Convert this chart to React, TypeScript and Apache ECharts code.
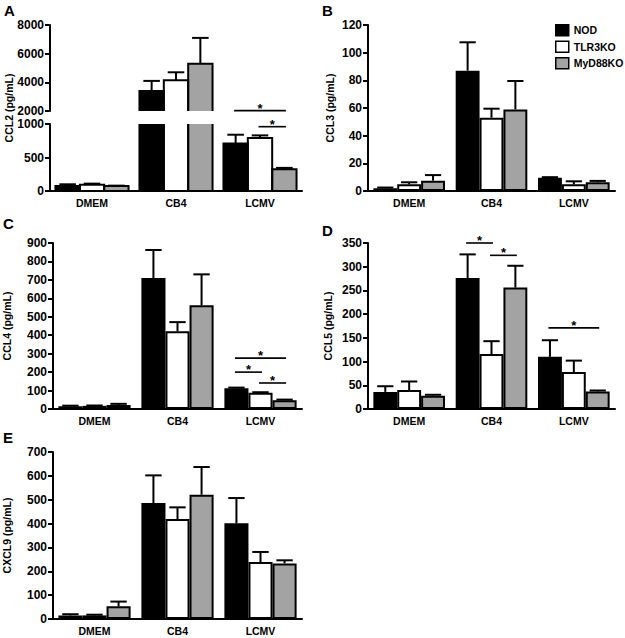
import React, { useEffect, useRef } from "react";
import * as echarts from "echarts";

const categories = ["DMEM", "CB4", "LCMV"];
const groups = ["NOD", "TLR3KO", "MyD88KO"];

// Panel A: CCL2
const ccl2NOD = [75, 3400, 710];
const ccl2NODErr = [25, 700, 130];
const ccl2TLR3KO = [95, 4150, 790];
const ccl2TLR3KOErr = [15, 550, 40];
const ccl2MyD88KO = [75, 5300, 325];
const ccl2MyD88KOErr = [5, 1800, 20];
const ccl2Sig = [[2, 0, 2, 1200], [2, 1, 2, 960]];

// Panel B: CCL3
const ccl3NOD = [2, 87, 9.5];
const ccl3NODErr = [0.5, 20.5, 0.5];
const ccl3TLR3KO = [4.8, 53, 4.8];
const ccl3TLR3KOErr = [1.5, 6.5, 2.2];
const ccl3MyD88KO = [7.5, 59, 6.3];
const ccl3MyD88KOErr = [4, 20.5, 1];

// Panel C: CCL4
const ccl4NOD = [15, 710, 113];
const ccl4NODErr = [3, 152, 3];
const ccl4TLR3KO = [17, 421, 88];
const ccl4TLR3KOErr = [2, 50, 3];
const ccl4MyD88KO = [22, 562, 48];
const ccl4MyD88KOErr = [6, 168, 3];
const ccl4Sig = [[2, 0, 2, 276], [2, 0, 1, 200], [2, 1, 2, 141]];

// Panel D: CCL5
const ccl5NOD = [36, 276, 110];
const ccl5NODErr = [12, 50, 35];
const ccl5TLR3KO = [40, 116, 78];
const ccl5TLR3KOErr = [18, 27, 24];
const ccl5MyD88KO = [28, 256, 37];
const ccl5MyD88KOErr = [2, 46, 2];
const ccl5Sig = [[1, 0, 1, 350], [1, 1, 2, 324], [2, 0, 2, 171]];

// Panel E: CXCL9
const cxcl9NOD = [15, 486, 401];
const cxcl9NODErr = [5, 116, 106];
const cxcl9TLR3KO = [15, 419, 239];
const cxcl9TLR3KOErr = [3, 49, 42];
const cxcl9MyD88KO = [53, 521, 233];
const cxcl9MyD88KOErr = [20, 116, 13];

const FONT = "'Liberation Sans', Arial, Helvetica, sans-serif";
const GAP = 0.13;
const COLORS = ["#000000", "#ffffff", "#a3a3a3"];

function barSeries(g: number, k: number, vals: number[], border: boolean) {
  return {
    type: "bar",
    name: groups[k],
    xAxisIndex: g,
    yAxisIndex: g,
    data: vals,
    barGap: "0%",
    barCategoryGap: GAP * 100 + "%",
    clip: true,
    silent: true,
    itemStyle: { color: COLORS[k], borderColor: "#000", borderWidth: border ? 2 : 0 },
    emphasis: { disabled: true },
    z: 2,
  };
}

// outline (left, top, right edges) for the broken-axis panel, clipped to its grid
function outlineSeries(g: number, k: number, vals: number[]) {
  return {
    type: "custom",
    xAxisIndex: g,
    yAxisIndex: g,
    clip: true,
    silent: true,
    z: 4,
    data: vals.map((v, i) => [i, v]),
    renderItem: (params: any, api: any) => {
      const c = api.value(0);
      const v = api.value(1);
      const band = api.size([1, 0])[0];
      const bw = (band * (1 - GAP)) / 3;
      const top = api.coord([c, v]);
      const base = api.coord([c, 0]);
      const cx = top[0] + (k - 1) * bw;
      const x0 = cx - bw / 2;
      const x1 = cx + bw / 2;
      return {
        type: "polyline",
        shape: { points: [[x0, base[1]], [x0, top[1]], [x1, top[1]], [x1, base[1]]] },
        style: { stroke: "#000", lineWidth: 2, fill: null },
      };
    },
  };
}

function errSeries(g: number, k: number, vals: number[], errs: number[]) {
  return {
    type: "custom",
    xAxisIndex: g,
    yAxisIndex: g,
    clip: true,
    silent: true,
    z: 5,
    data: vals.map((v, i) => [i, v, errs[i]]),
    renderItem: (params: any, api: any) => {
      const c = api.value(0);
      const v = api.value(1);
      const e = api.value(2);
      const band = api.size([1, 0])[0];
      const bw = (band * (1 - GAP)) / 3;
      const base = api.coord([c, v]);
      const top = api.coord([c, v + e]);
      const cx = base[0] + (k - 1) * bw;
      const cap = bw * 0.68;
      return {
        type: "group",
        children: [
          { type: "line", shape: { x1: cx, y1: base[1], x2: cx, y2: top[1] }, style: { stroke: "#000", lineWidth: 2 } },
          { type: "line", shape: { x1: cx - cap / 2, y1: top[1], x2: cx + cap / 2, y2: top[1] }, style: { stroke: "#000", lineWidth: 2 } },
        ],
      };
    },
  };
}

function sigSeries(g: number, rows: number[][]) {
  return {
    type: "custom",
    xAxisIndex: g,
    yAxisIndex: g,
    clip: false,
    silent: true,
    z: 6,
    data: rows,
    renderItem: (params: any, api: any) => {
      const c = api.value(0);
      const from = api.value(1);
      const to = api.value(2);
      const y = api.value(3);
      const band = api.size([1, 0])[0];
      const bw = (band * (1 - GAP)) / 3;
      const p = api.coord([c, y]);
      const x1 = p[0] + (from - 1) * bw - 1.5;
      const x2 = p[0] + (to - 1) * bw + 1.5;
      return {
        type: "group",
        children: [
          { type: "line", shape: { x1, y1: p[1], x2, y2: p[1] }, style: { stroke: "#000", lineWidth: 1.6 } },
          {
            type: "text",
            style: {
              text: "*",
              x: (x1 + x2) / 2,
              y: p[1] - 2.5,
              textAlign: "center",
              textVerticalAlign: "middle",
              fill: "#000",
              font: "bold 13px " + FONT,
            },
          },
        ],
      };
    },
  };
}

function panelSeries(g: number, vals: number[][], errs: number[][], broken = false) {
  const out: any[] = [];
  for (let k = 0; k < 3; k++) out.push(barSeries(g, k, vals[k], !broken));
  if (broken) for (let k = 0; k < 3; k++) out.push(outlineSeries(g, k, vals[k]));
  for (let k = 0; k < 3; k++) out.push(errSeries(g, k, vals[k], errs[k]));
  return out;
}

const axisLine = { show: true, onZero: false, lineStyle: { color: "#000", width: 2 } };

function xAxis(g: number, show = true) {
  return {
    type: "category",
    gridIndex: g,
    data: categories,
    show,
    axisLine,
    axisTick: { show: false },
    axisLabel: { color: "#000", fontWeight: "bold", fontSize: 10.5, fontFamily: FONT, margin: 6 },
    splitLine: { show: false },
    z: 10,
  };
}

function yAxis(g: number, min: number, max: number, interval: number, name?: string, nameGap?: number) {
  return {
    type: "value",
    gridIndex: g,
    min,
    max,
    interval,
    name: name || "",
    nameLocation: "middle",
    nameGap: nameGap || 30,
    nameTextStyle: { color: "#000", fontWeight: "bold", fontSize: 10.5, fontFamily: FONT },
    axisLine,
    axisTick: { show: true, inside: false, length: 5, lineStyle: { color: "#000", width: 2 } },
    axisLabel: {
      color: "#000",
      fontWeight: "bold",
      fontSize: 12,
      fontFamily: FONT,
      margin: 6,
      formatter: (v: number) => String(v),
    },
    splitLine: { show: false },
    z: 10,
  };
}

export default function App() {
  const ref = useRef<HTMLDivElement>(null);
  useEffect(() => {
    if (!ref.current) return;
    const chart = echarts.init(ref.current, undefined, { renderer: "svg" });
    const ccl2Vals = [ccl2NOD, ccl2TLR3KO, ccl2MyD88KO];
    const ccl2Errs = [ccl2NODErr, ccl2TLR3KOErr, ccl2MyD88KOErr];
    const series: any[] = [
      ...panelSeries(0, ccl2Vals, ccl2Errs, true),
      ...panelSeries(1, ccl2Vals, ccl2Errs, true),
      sigSeries(1, ccl2Sig),
      ...panelSeries(2, [ccl3NOD, ccl3TLR3KO, ccl3MyD88KO], [ccl3NODErr, ccl3TLR3KOErr, ccl3MyD88KOErr]),
      ...panelSeries(3, [ccl4NOD, ccl4TLR3KO, ccl4MyD88KO], [ccl4NODErr, ccl4TLR3KOErr, ccl4MyD88KOErr]),
      sigSeries(3, ccl4Sig),
      ...panelSeries(4, [ccl5NOD, ccl5TLR3KO, ccl5MyD88KO], [ccl5NODErr, ccl5TLR3KOErr, ccl5MyD88KOErr]),
      sigSeries(4, ccl5Sig),
      ...panelSeries(5, [cxcl9NOD, cxcl9TLR3KO, cxcl9MyD88KO], [cxcl9NODErr, cxcl9TLR3KOErr, cxcl9MyD88KOErr]),
    ];
    const letter = (t: string, x: number, y: number) => ({
      type: "text",
      left: x,
      top: y,
      style: { text: t, fill: "#000", font: "bold 15px " + FONT },
    });
    chart.setOption({
      animation: false,
      backgroundColor: "#fff",
      textStyle: { fontFamily: FONT },
      grid: [
        { left: 50, top: 25, width: 252, height: 86 },
        { left: 50, top: 124, width: 252, height: 67 },
        { left: 368, top: 25, width: 247, height: 166 },
        { left: 50, top: 243, width: 252, height: 166 },
        { left: 368, top: 243, width: 247, height: 166 },
        { left: 50, top: 452, width: 252, height: 167 },
      ],
      xAxis: [xAxis(0, false), xAxis(1), xAxis(2), xAxis(3), xAxis(4), xAxis(5)],
      yAxis: [
        yAxis(0, 2000, 8000, 2000),
        yAxis(1, 0, 1000, 500),
        yAxis(2, 0, 120, 20, "CCL3 (pg/mL)", 33),
        yAxis(3, 0, 900, 100, "CCL4 (pg/mL)", 41),
        yAxis(4, 0, 350, 50, "CCL5 (pg/mL)", 35),
        yAxis(5, 0, 700, 100, "CXCL9 (pg/mL)", 41),
      ],
      legend: {
        data: groups,
        orient: "vertical",
        left: 555,
        top: 24,
        padding: 0,
        itemWidth: 13,
        itemHeight: 11,
        itemGap: 4,
        selectedMode: false,
        icon: "rect",
        itemStyle: { borderColor: "#000", borderWidth: 1.5 },
        textStyle: { color: "#000", fontWeight: "bold", fontSize: 10.5, fontFamily: FONT },
      },
      graphic: [
        letter("A", 4, 3),
        letter("B", 322, 3),
        letter("C", 3, 216),
        letter("D", 322, 223),
        letter("E", 3, 430),
        {
          type: "text",
          x: 9,
          y: 108,
          rotation: Math.PI / 2,
          style: {
            text: "CCL2 (pg/mL)",
            textAlign: "center",
            textVerticalAlign: "middle",
            fill: "#000",
            font: "bold 10.5px " + FONT,
          },
        },
      ],
      series,
    });
    return () => chart.dispose();
  }, []);
  return <div ref={ref} style={{ position: "fixed", left: 0, top: 0, width: 625, height: 638, background: "#fff" }} />;
}
